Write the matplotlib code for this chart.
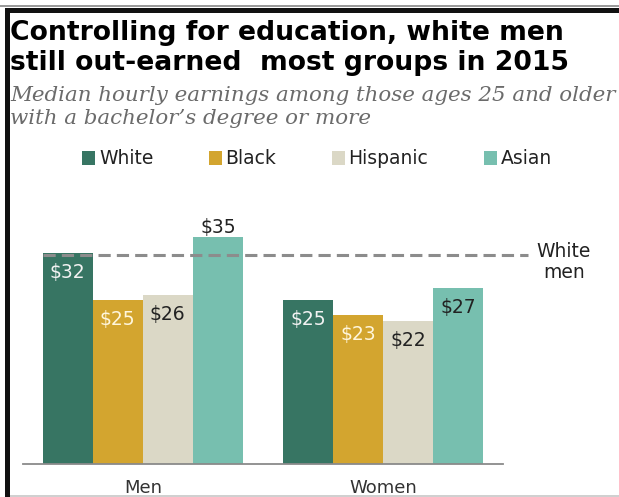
import matplotlib.pyplot as plt
from matplotlib.patches import Rectangle
import numpy as np

groups = ["Men", "Women"]
races = ["White", "Black", "Hispanic", "Asian"]
colors = ["#377563", "#D3A52F", "#DBD8C6", "#77BFAF"]
men = [32.5, 25.3, 26.0, 35.0]
women = [25.3, 23.0, 22.0, 27.2]
label_colors = ["#F2F2F2", "#FFF6DC", "#222222", "#222222"]

W, H = 619, 497
fig = plt.figure(figsize=(W / 100, H / 100), dpi=100)


def fx(px):
    return px / W


def fy(py):
    # py measured from top of picture
    return 1 - py / H


ax = fig.add_axes([fx(22.7), fy(464), fx(480.3), 259.4 / H])

bar_w = 1.0
group_x = np.array([0.0, 4.8])
offsets = (np.arange(4) - 1.5) * bar_w
values = np.array([men, women])

for i, race in enumerate(races):
    xs = group_x + offsets[i]
    bars = ax.bar(xs, values[:, i], width=bar_w, color=colors[i], label=race)
    for b, v in zip(bars, values[:, i]):
        cx = b.get_x() + b.get_width() / 2
        if v >= 34:
            ax.annotate("$%d" % int(v), (cx, v), xytext=(0, 7), textcoords="offset points",
                        ha="center", va="center", fontsize=13.5, color="#222222")
        else:
            ax.annotate("$%d" % int(v), (cx, v), xytext=(0, -14), textcoords="offset points",
                        ha="center", va="center", fontsize=13.5, color=label_colors[i])

ax.set_xlim(-2.4, 7.2)
ax.set_ylim(0, 40)
ax.set_xticks(group_x)
ax.set_xticklabels(groups, fontsize=13, color="#333333")
ax.tick_params(axis="x", length=0, pad=11)
ax.set_yticks([])
for s in ["top", "right", "left"]:
    ax.spines[s].set_visible(False)
ax.spines["bottom"].set_color("#8a8a8a")
ax.spines["bottom"].set_linewidth(1.3)

# reference line for white men
ax.plot([-2.0, 7.69], [men[0] - 0.2, men[0] - 0.2], color="#8c8c8c", lw=2.2,
        dashes=(4, 2), clip_on=False, zorder=3)
fig.text(fx(564), fy(262), "White\nmen", ha="center", va="center", fontsize=13.5,
         color="#222222", linespacing=1.1)

# legend
leg = fig.legend(loc="center left", bbox_to_anchor=(fx(82), fy(159)), ncol=4, frameon=False,
                 fontsize=13.5, handlelength=0.7, handleheight=0.7, handletextpad=0.2,
                 columnspacing=2.95, borderpad=0, borderaxespad=0)
for t in leg.get_texts():
    t.set_color("#222222")

# titles
fig.text(fx(10), fy(40), "Controlling for education, white men", fontsize=19.2,
         fontweight="bold", color="black", va="baseline")
fig.text(fx(10), fy(70), "still out-earned  most groups in 2015", fontsize=19.2,
         fontweight="bold", color="black", va="baseline")
fig.text(fx(10), fy(101), "Median hourly earnings among those ages 25 and older",
         fontsize=15.4, family="DejaVu Serif", style="italic", color="#6b6b6b", va="baseline")
fig.text(fx(10), fy(124), "with a bachelor\u2019s degree or more",
         fontsize=15.4, family="DejaVu Serif", style="italic", color="#6b6b6b", va="baseline")

# frame lines
fig.patches.append(Rectangle((fx(0), fy(7)), 1, 2 / H, transform=fig.transFigure,
                             color="#9a9a9a", lw=0))
fig.patches.append(Rectangle((fx(5), fy(13)), 1, 5 / H, transform=fig.transFigure,
                             color="#111111", lw=0))
fig.patches.append(Rectangle((fx(5), 0), 5 / W, fy(8), transform=fig.transFigure,
                             color="#111111", lw=0))
fig.patches.append(Rectangle((fx(10), 0), 1, 2 / H, transform=fig.transFigure,
                             color="#d0d0d0", lw=0))

fig.savefig("out.png", dpi=100)
